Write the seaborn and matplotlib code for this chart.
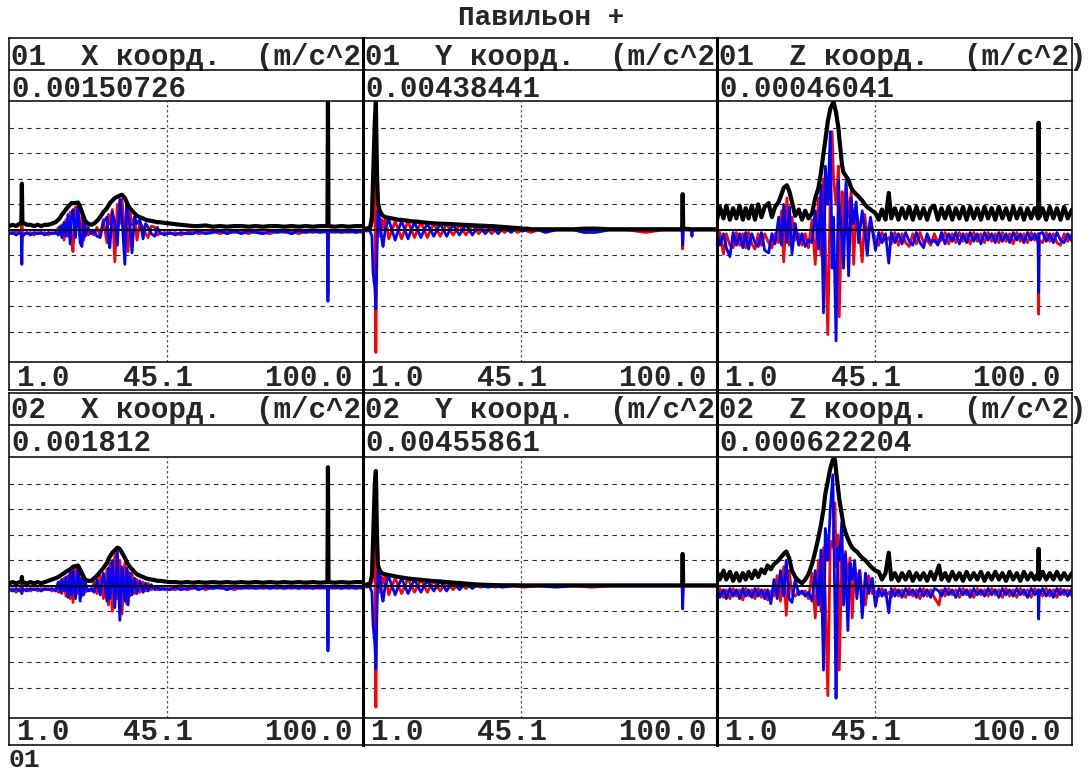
import matplotlib
matplotlib.use("Agg")
import matplotlib.pyplot as plt
from matplotlib.lines import Line2D
import pandas as pd
import seaborn as sns

# ---------------- texts ----------------
SUPTITLE = "Павильон +"
FOOTER = "01"
PANEL_TITLES = ["01  X коорд.  (m/c^2", "01  Y коорд.  (m/c^2", "01  Z коорд.  (m/c^2)",
                "02  X коорд.  (m/c^2", "02  Y коорд.  (m/c^2", "02  Z коорд.  (m/c^2)"]
PANEL_VALUES = ["0.00150726", "0.00438441", "0.00046041",
                "0.001812", "0.00455861", "0.000622204"]
X_TICK_LABELS = ["1.0", "45.1", "100.0"]
X_RANGE = (1.0, 100.0)
X_GRID = 45.1
Y_GRID = [-0.8, -0.6, -0.4, -0.2, 0.2, 0.4, 0.6, 0.8]

# ---------------- data: (x, red, blue, black envelope), normalised ----------------
X1 = [(1, -0.02, -0.03, 0.03), (2, -0.03, -0.02, 0.04), (3, -0.01, -0.04, 0.03), (4, -0.03, -0.02, 0.05),
      (4.45, -0.02, -0.03, 0.05), (4.6, 0.37, -0.27, 0.36), (4.75, -0.02, -0.05, 0.06),
      (6, -0.03, -0.02, 0.04), (7, -0.02, -0.04, 0.04), (8, -0.04, -0.02, 0.03), (9, -0.02, -0.03, 0.04),
      (10, -0.03, -0.02, 0.03), (11, -0.02, -0.04, 0.04), (12, -0.04, -0.02, 0.04), (13, -0.02, -0.03, 0.05),
      (14, -0.03, -0.02, 0.06), (14.8, 0.02, -0.04, 0.08), (15.4, -0.04, 0.03, 0.10), (15.8, 0.04, -0.06, 0.12),
      (16.4, -0.08, 0.06, 0.14), (16.9, 0.08, -0.05, 0.16), (17.5, -0.05, 0.12, 0.18), (18.1, 0.14, -0.11, 0.20),
      (18.5, -0.10, 0.10, 0.21), (18.9, -0.17, 0.16, 0.21), (19.6, 0.18, -0.06, 0.21), (20.3, 0.10, 0.20, 0.215),
      (20.9, -0.06, -0.10, 0.18), (21.4, 0.12, -0.13, 0.14), (21.9, -0.08, 0.08, 0.10), (22.3, 0.06, -0.05, 0.07),
      (23.1, -0.04, 0.02, 0.05), (24, -0.02, -0.03, 0.04), (24.8, -0.04, -0.01, 0.05), (25.6, 0.02, -0.05, 0.07),
      (26.5, -0.05, -0.06, 0.10), (27.4, 0.08, 0.06, 0.14), (28.4, -0.10, 0.10, 0.17), (28.8, 0.12, -0.08, 0.19),
      (29.2, 0.05, -0.14, 0.21), (29.9, 0.16, 0.14, 0.23), (30.6, -0.25, 0.06, 0.25), (31.3, 0.20, -0.12, 0.26),
      (32.0, 0.05, 0.24, 0.27), (32.6, 0.24, 0.10, 0.275), (33.4, -0.08, -0.27, 0.25), (33.9, 0.20, 0.18, 0.22),
      (34.3, -0.17, 0.12, 0.19), (34.8, 0.14, 0.05, 0.17), (35.4, 0.04, -0.18, 0.15), (36.1, 0.10, 0.10, 0.13),
      (36.8, -0.08, 0.05, 0.11), (37.6, 0.06, 0.08, 0.10), (38.5, 0.02, -0.07, 0.09), (39.2, -0.03, 0.05, 0.08),
      (39.9, -0.06, 0.02, 0.075), (40.8, 0.03, -0.03, 0.07), (41.8, 0.02, -0.05, 0.065), (42.5, -0.04, 0.02, 0.06),
      (43.2, -0.03, -0.02, 0.06), (44.5, -0.02, -0.04, 0.055), (46, -0.03, -0.02, 0.05), (47.5, -0.02, -0.04, 0.045),
      (49, -0.04, -0.02, 0.04), (50.8, -0.02, -0.03, 0.035), (52.5, -0.01, -0.03, 0.03), (54, -0.03, -0.01, 0.03),
      (56, -0.02, -0.03, 0.035), (58, -0.01, -0.02, 0.025), (60, -0.03, -0.01, 0.03), (62, -0.01, -0.03, 0.025),
      (64, -0.02, -0.01, 0.03), (66, -0.01, -0.03, 0.03), (68, -0.03, -0.01, 0.025), (70, -0.01, -0.02, 0.03),
      (72, -0.02, -0.03, 0.025), (74, -0.03, -0.01, 0.03), (76, -0.01, -0.02, 0.03), (78, -0.02, -0.01, 0.025),
      (80, -0.01, -0.03, 0.03), (82, -0.03, -0.01, 0.025), (84, -0.01, -0.02, 0.03), (86, -0.02, -0.01, 0.025),
      (88, -0.01, -0.02, 0.03), (90.05, -0.02, -0.01, 0.03), (90.2, -0.50, -0.56, 1.0), (90.35, -0.01, -0.02, 0.03),
      (92, -0.02, -0.01, 0.025), (94, -0.01, -0.02, 0.03), (96, -0.02, -0.01, 0.025), (98, -0.01, -0.02, 0.03),
      (100, -0.02, -0.01, 0.03)]

Y1 = [(1, 0.0, -0.01, 0.01), (2, -0.01, 0.0, 0.01), (3, 0.0, -0.01, 0.02), (3.5, 0.05, -0.05, 0.10),
      (3.8, 0.18, -0.33, 0.39), (4.3, 0.40, -0.45, 0.85), (4.6, -0.96, -0.62, 1.0), (4.9, 0.30, -0.20, 0.45),
      (5.2, 0.10, 0.15, 0.21), (5.7, -0.05, 0.08, 0.15), (6.3, 0.08, -0.08, 0.12), (6.6, 0.02, -0.13, 0.11),
      (7.3, 0.09, 0.02, 0.10), (8.2, -0.07, 0.08, 0.095), (9.1, 0.0, 0.0, 0.09), (10.0, 0.07, -0.08, 0.085),
      (10.9, 0.0, 0.0, 0.08), (11.8, -0.07, 0.07, 0.078), (12.7, 0.0, 0.0, 0.075), (13.6, 0.07, -0.07, 0.072),
      (14.5, 0.0, 0.0, 0.068), (15.4, -0.06, 0.06, 0.066), (16.3, 0.0, 0.0, 0.064), (17.2, 0.06, -0.06, 0.062),
      (18.1, 0.0, 0.0, 0.058), (19.0, -0.06, 0.05, 0.056), (19.9, 0.0, 0.0, 0.054), (20.8, 0.05, -0.05, 0.052),
      (21.7, 0.0, 0.0, 0.05), (22.6, -0.05, 0.05, 0.049), (23.5, 0.0, 0.0, 0.048), (24.4, 0.05, -0.05, 0.047),
      (25.3, 0.0, 0.0, 0.046), (26.2, -0.04, 0.04, 0.045), (27.1, 0.0, 0.0, 0.043), (28.0, 0.04, -0.04, 0.042),
      (28.9, 0.0, 0.0, 0.04), (29.8, -0.04, 0.04, 0.039), (30.7, 0.0, 0.0, 0.038), (31.6, 0.04, -0.04, 0.036),
      (32.5, 0.0, 0.0, 0.035), (33.4, -0.03, 0.03, 0.034), (34.3, 0.0, 0.0, 0.033), (35.2, 0.03, -0.03, 0.032),
      (36.1, 0.0, 0.0, 0.03), (37.0, -0.03, 0.03, 0.03), (37.9, 0.0, 0.0, 0.028), (38.8, 0.02, -0.03, 0.026),
      (39.7, 0.0, 0.0, 0.024), (40.6, -0.02, 0.02, 0.022), (41.5, 0.0, 0.0, 0.02), (42.4, 0.02, -0.02, 0.018),
      (43.3, 0.0, 0.0, 0.016), (44.2, -0.02, 0.01, 0.015), (45.5, 0.0, -0.01, 0.01), (47, -0.01, 0.0, 0.01),
      (48, -0.02, 0.0, 0.005), (50, 0.0, 0.0, 0.005), (52, 0.0, -0.02, 0.005), (55, 0.0, 0.0, 0.005),
      (60, 0.0, 0.0, 0.005), (63, -0.02, -0.02, 0.01), (66, 0.0, -0.02, 0.01), (70, 0.0, 0.0, 0.005),
      (75, 0.0, 0.0, 0.005), (80, -0.02, 0.0, 0.005), (85, 0.0, 0.0, 0.005), (90.25, 0.0, 0.0, 0.005),
      (90.4, -0.15, -0.12, 0.28), (90.55, 0.0, 0.0, 0.01), (92.85, 0.0, 0.0, 0.005), (93.0, 0.0, -0.05, 0.005),
      (93.15, 0.0, 0.0, 0.005), (96, 0.0, 0.0, 0.005), (100, 0.0, 0.0, 0.005)]

Z1 = [(1, -0.10, -0.02, 0.08), (1.8, -0.02, -0.12, 0.18), (2.8, -0.19, -0.03, 0.09), (3.6, -0.03, -0.14, 0.19),
      (4.6, -0.12, -0.21, 0.08), (5.5, -0.14, -0.02, 0.17), (6.4, -0.02, -0.12, 0.09), (7.3, -0.12, -0.03, 0.19),
      (8.2, -0.03, -0.14, 0.08), (9.0, -0.14, -0.02, 0.17), (9.8, -0.02, -0.15, 0.09), (10.7, -0.11, -0.03, 0.19),
      (11.6, -0.15, -0.10, 0.08), (12.5, -0.03, -0.13, 0.20), (13.4, -0.12, -0.02, 0.10), (14.3, -0.03, -0.16, 0.18),
      (15.4, -0.10, -0.18, 0.21), (16.3, -0.14, -0.03, 0.10), (17.2, -0.03, -0.11, 0.18), (18.2, -0.10, 0.10, 0.22),
      (19.0, 0.15, -0.12, 0.28), (19.6, -0.25, 0.20, 0.33), (20.5, 0.25, -0.10, 0.35), (21.2, -0.12, 0.18, 0.30),
      (21.9, 0.10, -0.19, 0.22), (22.8, -0.08, 0.05, 0.11), (23.8, -0.03, -0.12, 0.16), (24.7, -0.12, -0.03, 0.08),
      (25.6, -0.03, -0.13, 0.15), (26.5, -0.14, -0.08, 0.09), (27.5, 0.08, -0.10, 0.13), (28.4, -0.27, 0.15, 0.25),
      (29.3, 0.25, -0.15, 0.33), (30.0, -0.20, 0.35, 0.45), (30.7, 0.40, -0.65, 0.60), (31.2, -0.10, 0.50, 0.70),
      (31.9, -0.82, 0.20, 0.85), (32.6, 0.30, 0.77, 0.95), (33.1, 0.77, -0.30, 0.98), (33.5, 0.40, 0.10, 1.0),
      (34.2, 0.20, -0.87, 0.92), (34.9, 0.50, 0.39, 0.79), (35.1, -0.68, 0.20, 0.72), (35.9, 0.30, -0.10, 0.50),
      (36.3, -0.05, -0.30, 0.45), (37.0, 0.35, 0.38, 0.42), (37.7, 0.10, -0.36, 0.39), (38.4, 0.30, 0.25, 0.33),
      (39.1, -0.27, 0.05, 0.30), (39.8, 0.15, 0.22, 0.28), (40.5, 0.05, -0.10, 0.26), (41.5, -0.25, 0.15, 0.23),
      (42.2, 0.12, 0.0, 0.20), (42.9, -0.05, -0.20, 0.18), (43.8, 0.08, 0.10, 0.16), (45.2, -0.10, -0.16, 0.13),
      (46.1, -0.12, -0.02, 0.08), (47.0, -0.02, -0.10, 0.16), (48.0, -0.09, -0.03, 0.08), (48.9, -0.06, -0.26, 0.29),
      (49.6, -0.11, -0.02, 0.09), (50.6, -0.02, -0.10, 0.17), (51.6, -0.12, -0.03, 0.08), (52.6, -0.03, -0.11, 0.17),
      (53.6, -0.10, -0.02, 0.09), (54.6, -0.13, -0.09, 0.18), (55.6, -0.03, -0.12, 0.08), (56.6, -0.11, -0.02, 0.18),
      (57.6, -0.02, -0.10, 0.09), (58.6, -0.10, -0.14, 0.17), (59.6, -0.08, -0.03, 0.08), (60.6, -0.12, -0.10, 0.17),
      (61.6, -0.03, -0.08, 0.19), (62.6, -0.10, -0.12, 0.08), (63.6, -0.08, -0.02, 0.17), (64.6, -0.02, -0.11, 0.09),
      (65.6, -0.11, -0.03, 0.18), (66.6, -0.03, -0.09, 0.08), (67.6, -0.10, -0.02, 0.17), (68.6, -0.02, -0.11, 0.09),
      (69.6, -0.09, -0.03, 0.18), (70.6, -0.03, -0.10, 0.08), (71.6, -0.11, -0.02, 0.18), (72.6, -0.02, -0.09, 0.09),
      (73.6, -0.09, -0.03, 0.17), (74.6, -0.03, -0.11, 0.08), (75.6, -0.10, -0.02, 0.18), (76.6, -0.02, -0.08, 0.09),
      (77.6, -0.09, -0.03, 0.17), (78.6, -0.03, -0.10, 0.08), (79.6, -0.10, -0.02, 0.18), (80.6, -0.02, -0.09, 0.09),
      (81.6, -0.09, -0.03, 0.17), (82.6, -0.03, -0.10, 0.08), (83.6, -0.11, -0.02, 0.18), (84.6, -0.02, -0.08, 0.09),
      (85.6, -0.09, -0.03, 0.17), (86.6, -0.03, -0.10, 0.08), (87.6, -0.10, -0.02, 0.17), (88.6, -0.02, -0.08, 0.09),
      (89.6, -0.08, -0.03, 0.17), (90.55, -0.03, -0.10, 0.09), (90.7, -0.66, -0.49, 0.84), (90.85, -0.08, -0.03, 0.10),
      (91.8, -0.10, -0.02, 0.17), (92.8, -0.02, -0.09, 0.08), (93.8, -0.09, -0.03, 0.18), (94.8, -0.03, -0.10, 0.09),
      (95.8, -0.10, -0.02, 0.17), (96.8, -0.12, -0.08, 0.08), (97.8, -0.03, -0.10, 0.18), (98.8, -0.09, -0.03, 0.09),
      (100, -0.03, -0.09, 0.16)]

X2 = [(1, -0.04, -0.02, 0.02), (2, -0.02, -0.04, 0.03), (3, -0.05, -0.02, 0.02), (4, -0.02, -0.04, 0.03),
      (4.45, -0.03, -0.03, 0.03), (4.6, 0.06, -0.06, 0.07), (4.75, -0.04, -0.02, 0.03),
      (6, -0.02, -0.04, 0.02), (7, -0.04, -0.02, 0.03), (8, -0.02, -0.03, 0.02), (9, -0.04, -0.02, 0.03),
      (10, -0.02, -0.04, 0.02), (11, -0.03, -0.02, 0.03), (12, -0.02, -0.03, 0.04), (13, -0.04, -0.02, 0.05),
      (14, -0.02, -0.04, 0.06), (14.8, -0.05, 0.03, 0.07), (15.4, 0.04, -0.05, 0.08), (15.8, -0.06, 0.05, 0.09),
      (16.4, 0.06, -0.04, 0.10), (16.9, -0.08, 0.07, 0.11), (17.5, 0.08, -0.09, 0.12), (18.1, -0.10, 0.10, 0.13),
      (18.5, 0.11, -0.07, 0.14), (18.9, -0.13, 0.12, 0.15), (19.6, 0.14, -0.10, 0.155), (20.3, -0.06, 0.15, 0.16),
      (20.9, 0.10, -0.12, 0.13), (21.4, -0.08, 0.06, 0.10), (21.9, 0.05, -0.07, 0.07), (22.3, -0.05, 0.03, 0.05),
      (23.1, -0.03, -0.04, 0.04), (24, -0.04, -0.02, 0.04), (24.8, 0.03, -0.05, 0.06), (25.6, -0.06, 0.05, 0.08),
      (26.5, 0.08, -0.07, 0.11), (27.4, -0.10, 0.10, 0.14), (28.4, 0.13, -0.12, 0.18), (28.8, -0.15, 0.14, 0.21),
      (29.2, 0.18, -0.10, 0.23), (29.9, -0.20, 0.20, 0.26), (30.6, 0.25, -0.17, 0.28), (31.3, -0.10, 0.27, 0.30),
      (32.0, 0.20, -0.27, 0.29), (32.6, -0.22, 0.15, 0.26), (33.4, 0.18, -0.12, 0.22), (33.9, -0.14, 0.14, 0.19),
      (34.3, 0.12, -0.15, 0.17), (34.8, -0.08, 0.10, 0.15), (35.4, 0.10, -0.07, 0.13), (36.1, -0.06, 0.06, 0.11),
      (36.8, 0.05, -0.06, 0.09), (37.6, -0.05, 0.04, 0.08), (38.5, 0.03, -0.05, 0.07), (39.2, -0.04, 0.02, 0.06),
      (39.9, 0.02, -0.04, 0.055), (40.8, -0.03, 0.01, 0.05), (41.8, -0.01, -0.03, 0.045), (42.5, -0.03, -0.01, 0.04),
      (43.2, -0.01, -0.03, 0.04), (44.5, -0.03, -0.02, 0.035), (46, -0.02, -0.03, 0.03), (47.5, -0.03, -0.01, 0.03),
      (49, -0.01, -0.03, 0.025), (50.8, -0.03, -0.02, 0.03), (52.5, -0.02, -0.01, 0.025), (54, -0.01, -0.03, 0.03),
      (56, -0.03, -0.01, 0.025), (58, -0.01, -0.02, 0.03), (60, -0.02, -0.01, 0.025), (62, -0.01, -0.03, 0.03),
      (64, -0.03, -0.01, 0.025), (66, -0.01, -0.02, 0.03), (68, -0.02, -0.01, 0.025), (70, -0.01, -0.02, 0.03),
      (72, -0.02, -0.01, 0.025), (74, -0.01, -0.02, 0.03), (76, -0.02, -0.01, 0.025), (78, -0.01, -0.02, 0.03),
      (80, -0.02, -0.01, 0.025), (82, -0.01, -0.02, 0.03), (84, -0.02, -0.01, 0.025), (86, -0.01, -0.02, 0.03),
      (88, -0.02, -0.01, 0.025), (90.05, -0.01, -0.02, 0.03), (90.2, -0.45, -0.51, 0.93), (90.35, -0.01, -0.02, 0.03),
      (92, -0.02, -0.01, 0.025), (94, -0.01, -0.02, 0.03), (96, -0.02, -0.01, 0.025), (98, -0.01, -0.02, 0.03),
      (100, -0.02, -0.01, 0.03)]

Y2 = [(1, 0.0, -0.01, 0.01), (2, -0.01, 0.0, 0.01), (3, 0.0, -0.01, 0.02), (3.5, 0.04, -0.05, 0.08),
      (3.8, 0.15, -0.30, 0.35), (4.3, 0.35, -0.45, 0.80), (4.6, -0.95, -0.65, 0.90), (4.9, 0.25, -0.20, 0.40),
      (5.2, 0.08, 0.12, 0.16), (5.7, -0.05, 0.08, 0.12), (6.3, 0.07, -0.08, 0.10), (6.6, 0.02, -0.12, 0.095),
      (7.3, 0.08, 0.02, 0.09), (8.2, -0.07, 0.07, 0.085), (9.1, 0.0, 0.0, 0.08), (10.0, 0.06, -0.07, 0.075),
      (10.9, 0.0, 0.0, 0.07), (11.8, -0.06, 0.06, 0.066), (12.7, 0.0, 0.0, 0.062), (13.6, 0.06, -0.06, 0.058),
      (14.5, 0.0, 0.0, 0.055), (15.4, -0.05, 0.05, 0.052), (16.3, 0.0, 0.0, 0.05), (17.2, 0.05, -0.05, 0.048),
      (18.1, 0.0, 0.0, 0.045), (19.0, -0.05, 0.04, 0.043), (19.9, 0.0, 0.0, 0.04), (20.8, 0.04, -0.04, 0.038),
      (21.7, 0.0, 0.0, 0.036), (22.6, -0.04, 0.04, 0.034), (23.5, 0.0, 0.0, 0.032), (24.4, 0.03, -0.04, 0.03),
      (25.3, 0.0, 0.0, 0.028), (26.2, -0.03, 0.03, 0.026), (27.1, 0.0, 0.0, 0.024), (28.0, 0.03, -0.03, 0.022),
      (28.9, 0.0, 0.0, 0.02), (29.8, -0.02, 0.02, 0.018), (30.7, 0.0, 0.0, 0.016), (31.6, 0.02, -0.02, 0.014),
      (32.5, 0.0, 0.0, 0.012), (34, -0.01, 0.0, 0.01), (36, 0.0, -0.01, 0.008), (38, -0.01, 0.0, 0.006),
      (40, 0.0, -0.01, 0.005), (43, 0.0, 0.0, 0.005), (46, -0.01, 0.0, 0.004), (50, 0.0, 0.0, 0.004),
      (55, 0.0, -0.01, 0.004), (60, 0.0, 0.0, 0.004), (65, -0.01, 0.0, 0.004), (70, 0.0, 0.0, 0.004),
      (75, 0.0, 0.0, 0.004), (80, 0.0, 0.0, 0.004), (85, 0.0, 0.0, 0.004), (90.25, 0.0, 0.0, 0.004),
      (90.4, -0.10, -0.18, 0.25), (90.55, 0.0, 0.0, 0.004), (95, 0.0, 0.0, 0.004), (100, 0.0, 0.0, 0.004)]

Z2 = [(1, -0.08, -0.02, 0.11), (1.8, -0.02, -0.09, 0.05), (2.8, -0.09, -0.03, 0.12), (3.6, -0.03, -0.10, 0.05),
      (4.6, -0.10, -0.02, 0.11), (5.5, -0.02, -0.08, 0.04), (6.4, -0.08, -0.03, 0.10), (7.3, -0.03, -0.10, 0.04),
      (8.2, -0.11, -0.02, 0.10), (9.0, -0.02, -0.08, 0.05), (9.8, -0.08, -0.03, 0.11), (10.7, -0.03, -0.09, 0.06),
      (11.6, -0.10, -0.02, 0.12), (12.5, -0.02, -0.08, 0.07), (13.4, -0.09, -0.03, 0.13), (14.3, -0.03, -0.10, 0.10),
      (15.1, -0.11, -0.03, 0.16), (16.0, -0.04, -0.14, 0.13), (16.9, -0.08, 0.05, 0.17), (17.8, 0.08, -0.10, 0.19),
      (18.7, -0.12, 0.12, 0.22), (19.6, 0.15, -0.08, 0.25), (20.3, -0.23, 0.20, 0.27), (21.1, 0.12, -0.10, 0.22),
      (21.9, -0.06, -0.13, 0.12), (22.8, -0.08, 0.05, 0.07), (23.8, -0.04, -0.07, 0.04), (24.7, -0.06, -0.04, 0.02),
      (25.6, -0.04, -0.08, 0.05), (26.5, -0.10, -0.05, 0.09), (27.5, 0.10, -0.12, 0.17), (28.4, -0.25, 0.12, 0.27),
      (29.3, 0.20, -0.15, 0.38), (30.0, -0.20, 0.28, 0.48), (30.7, 0.30, -0.66, 0.60), (31.2, -0.10, 0.45, 0.72),
      (31.9, -0.86, 0.20, 0.82), (32.6, 0.35, 0.60, 0.92), (33.3, 0.30, 0.87, 0.99), (33.9, 0.65, -0.20, 0.99),
      (34.2, 0.15, -0.88, 0.90), (34.7, 0.40, 0.30, 0.78), (35.1, -0.66, 0.20, 0.68), (35.8, 0.20, 0.50, 0.56),
      (36.3, -0.10, -0.15, 0.47), (36.8, 0.27, 0.25, 0.42), (37.5, 0.05, -0.35, 0.37), (38.1, 0.22, 0.18, 0.33),
      (38.7, -0.25, 0.05, 0.30), (39.4, 0.15, 0.20, 0.28), (40.0, 0.05, -0.10, 0.27), (40.8, 0.12, 0.12, 0.24),
      (41.5, -0.05, -0.25, 0.22), (42.4, -0.15, 0.10, 0.20), (43.3, 0.08, -0.06, 0.17), (44.3, -0.06, 0.06, 0.14),
      (45.2, -0.04, -0.16, 0.12), (46.1, -0.08, -0.02, 0.11), (47.0, -0.02, -0.08, 0.05), (48.0, -0.08, -0.03, 0.10),
      (48.9, -0.05, -0.21, 0.26), (49.6, -0.09, -0.02, 0.05), (50.6, -0.02, -0.08, 0.10), (51.6, -0.08, -0.03, 0.04),
      (52.6, -0.03, -0.09, 0.10), (53.6, -0.09, -0.02, 0.05), (54.6, -0.02, -0.07, 0.11), (55.6, -0.08, -0.03, 0.04),
      (56.6, -0.03, -0.09, 0.10), (57.6, -0.10, -0.02, 0.05), (58.6, -0.02, -0.08, 0.10), (59.6, -0.08, -0.03, 0.04),
      (60.6, -0.03, -0.09, 0.11), (61.6, -0.09, -0.02, 0.05), (62.9, -0.15, -0.04, 0.16), (63.6, -0.03, -0.08, 0.05),
      (64.6, -0.08, -0.02, 0.10), (65.6, -0.02, -0.07, 0.04), (66.6, -0.07, -0.03, 0.11), (67.6, -0.03, -0.09, 0.05),
      (68.6, -0.09, -0.02, 0.10), (69.6, -0.02, -0.07, 0.04), (70.6, -0.07, -0.03, 0.11), (71.6, -0.03, -0.09, 0.05),
      (72.6, -0.09, -0.02, 0.10), (73.6, -0.02, -0.07, 0.05), (74.6, -0.07, -0.03, 0.11), (75.6, -0.03, -0.08, 0.04),
      (76.6, -0.08, -0.02, 0.10), (77.6, -0.02, -0.07, 0.05), (78.6, -0.07, -0.03, 0.11), (79.6, -0.03, -0.09, 0.05),
      (80.6, -0.09, -0.02, 0.10), (81.6, -0.02, -0.07, 0.04), (82.6, -0.08, -0.03, 0.11), (83.6, -0.03, -0.08, 0.05),
      (84.6, -0.09, -0.02, 0.10), (85.6, -0.02, -0.07, 0.04), (86.6, -0.07, -0.03, 0.11), (87.6, -0.03, -0.09, 0.05),
      (88.6, -0.09, -0.02, 0.10), (89.6, -0.02, -0.07, 0.05), (90.55, -0.07, -0.03, 0.10), (90.7, -0.10, -0.26, 0.29),
      (90.85, -0.03, -0.07, 0.05), (91.8, -0.08, -0.02, 0.11), (92.8, -0.02, -0.08, 0.05), (93.8, -0.08, -0.03, 0.10),
      (94.8, -0.03, -0.09, 0.05), (95.8, -0.09, -0.02, 0.11), (96.8, -0.02, -0.07, 0.05), (97.8, -0.07, -0.03, 0.10),
      (98.8, -0.03, -0.08, 0.05), (100, -0.08, -0.02, 0.10)]

PANELS = [X1, Y1, Z1, X2, Y2, Z2]

# ---------------- style ----------------
sns.set_style("white")
plt.rcParams['font.family'] = ['Liberation Mono', 'DejaVu Sans Mono']
plt.rcParams['font.weight'] = 'bold'

W, H = 1089, 773
fig = plt.figure(figsize=(W / 100, H / 100), dpi=100)
fig.patch.set_facecolor('white')


def fx(px):
    return px / W


def fy(py):
    return 1 - py / H


COL_L = [9, 363, 717]
COL_R = [363, 717, 1072]
ROWS = [dict(top=38, sep1=70, sep2=101, sep3=362, bot=390, tb=65, vb=97, ab=386),
        dict(top=393, sep1=425, sep2=457, sep3=718, bot=745, tb=418, vb=451, ab=740)]
FS = 21
THIN = 1.1
THICK = 2.2


def line(xs, ys, lw):
    fig.add_artist(Line2D([fx(v) for v in xs], [fy(v) for v in ys], color='black', lw=lw,
                          transform=fig.transFigure, solid_capstyle='projecting', zorder=10))


for i, rows in enumerate(PANELS):
    r, c = divmod(i, 3)
    L, R = COL_L[c], COL_R[c]
    g = ROWS[r]
    ax = fig.add_axes([fx(L), fy(g['sep3']), (R - L) / W, (g['sep3'] - g['sep2']) / H])
    df = pd.DataFrame(rows, columns=['x', 'red', 'blue', 'black'])
    for yv in Y_GRID:
        ax.axhline(yv, color='#2a2a2a', lw=0.8, ls=(0, (4, 4)), zorder=1)
    ax.axvline(X_GRID, color='#555555', lw=0.9, ls=(0, (2, 2)), zorder=1)
    sns.lineplot(data=df, x='x', y='red', ax=ax, color='#ff0000', lw=2.0,
                 estimator=None, sort=False, legend=False, zorder=2)
    sns.lineplot(data=df, x='x', y='blue', ax=ax, color='#0000ff', lw=2.0,
                 estimator=None, sort=False, legend=False, zorder=3)
    ax.axhline(0, color='black', lw=1.4, zorder=3.5)
    sns.lineplot(data=df, x='x', y='black', ax=ax, color='black', lw=3.0,
                 estimator=None, sort=False, legend=False, zorder=4)
    ax.set_xlim(*X_RANGE)
    ax.set_ylim(-1.035, 1.01)
    ax.set_axis_off()

    # frame of the panel
    for py in (g['top'], g['sep1'], g['sep2'], g['sep3'], g['bot']):
        line([L, R], [py, py], THIN)
    line([L, L], [g['top'], g['bot']], THIN)
    line([R, R], [g['top'], g['bot']], THIN)

    # texts
    fig.text(fx(L + 2), fy(g['tb']), PANEL_TITLES[i], fontsize=FS, fontweight='bold',
             ha='left', va='baseline')
    fig.text(fx(L + 2), fy(g['vb']), PANEL_VALUES[i], fontsize=FS, fontweight='bold',
             ha='left', va='baseline')
    for lab, off in zip(X_TICK_LABELS, (8, 114, 256)):
        fig.text(fx(L + off), fy(g['ab']), lab, fontsize=FS, fontweight='bold',
                 ha='left', va='baseline')

# thick column separators
for xb in (363, 717):
    line([xb, xb], [38, 745], THICK)

fig.text(fx(541), fy(25), SUPTITLE, fontsize=20, fontweight='bold', ha='center', va='baseline')
fig.text(fx(9), fy(767), FOOTER, fontsize=19, fontweight='bold', ha='left', va='baseline')

fig.savefig("out.png", dpi=100)
